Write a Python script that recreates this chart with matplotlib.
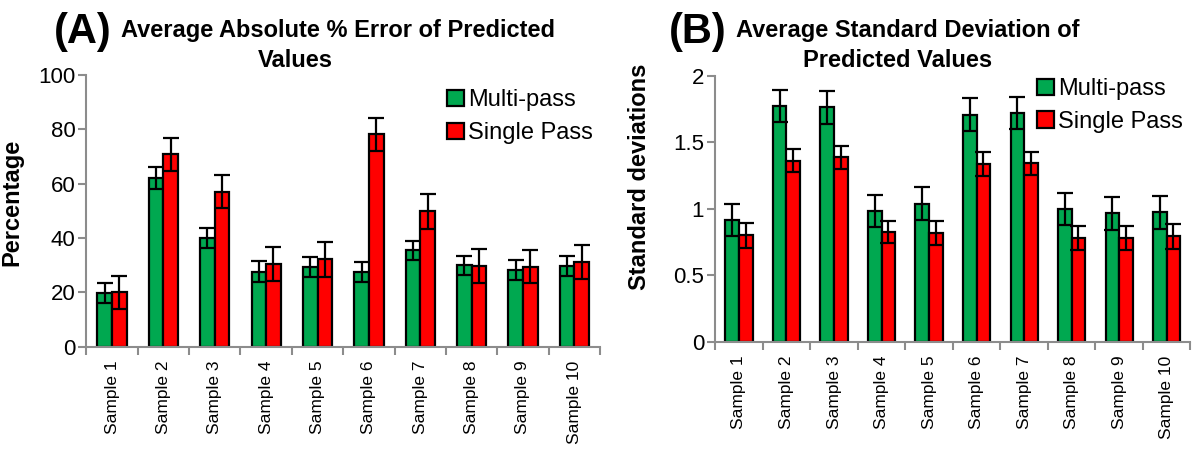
import numpy as np
import matplotlib.pyplot as plt

plt.rcParams['font.family'] = ['Liberation Sans', 'DejaVu Sans']

samples = ['Sample 1', 'Sample 2', 'Sample 3', 'Sample 4', 'Sample 5',
           'Sample 6', 'Sample 7', 'Sample 8', 'Sample 9', 'Sample 10']

# (A) average absolute % error
err_multi = [19.8, 62.2, 39.9, 27.7, 29.5, 27.5, 35.5, 30.0, 28.2, 29.6]
err_multi_sd = [3.5, 4.0, 3.7, 3.9, 3.7, 3.6, 3.6, 3.5, 3.6, 3.7]
err_single = [20.0, 70.8, 57.1, 30.6, 32.2, 78.2, 49.8, 29.7, 29.5, 31.3]
err_single_sd = [6.1, 6.1, 6.2, 6.2, 6.4, 6.1, 6.3, 6.2, 6.1, 6.2]

# (B) average standard deviation
sd_multi = [0.917, 1.774, 1.764, 0.985, 1.04, 1.706, 1.72, 1.0, 0.965, 0.975]
sd_multi_sd = [0.12, 0.123, 0.125, 0.122, 0.125, 0.124, 0.12, 0.12, 0.125, 0.125]
sd_single = [0.80, 1.362, 1.387, 0.825, 0.818, 1.337, 1.342, 0.778, 0.778, 0.793]
sd_single_sd = [0.095, 0.088, 0.088, 0.085, 0.087, 0.088, 0.088, 0.09, 0.09, 0.092]

green = '#00a850'
red = '#ff0000'
gray = '#8c8c8c'

fig = plt.figure(figsize=(12, 4.54), dpi=100)
axA = fig.add_axes([0.072, 0.236, 0.428, 0.599])
axB = fig.add_axes([0.596, 0.247, 0.396, 0.586])

x = np.arange(len(samples))
w = 0.285


def draw(ax, m, msd, s, ssd, ymax, yticks, ylabel, leg_y):
    ekw = dict(ecolor='black', elinewidth=1.6, capsize=5.5, capthick=1.6)
    ax.bar(x - w / 2, m, w, yerr=msd, color=green, edgecolor='black',
           linewidth=1.6, error_kw=ekw, label='Multi-pass')
    ax.bar(x + w / 2, s, w, yerr=ssd, color=red, edgecolor='black',
           linewidth=1.6, error_kw=ekw, label='Single Pass')
    ax.set_xlim(-0.5, len(samples) - 0.5)
    ax.set_ylim(0, ymax)
    ax.set_yticks(yticks)
    ax.set_yticklabels([('%g' % t) for t in yticks], fontsize=16)
    ax.set_xticks(x)
    ax.set_xticklabels(samples, rotation=90, fontsize=12.5)
    ax.set_xticks(np.arange(-0.5, len(samples), 1), minor=True)
    ax.tick_params(axis='x', which='major', length=0, pad=10)
    ax.tick_params(axis='x', which='minor', length=6, width=1.5, color=gray, direction='out')
    ax.tick_params(axis='y', length=6, width=1.5, color=gray, pad=2)
    for sp in ['top', 'right']:
        ax.spines[sp].set_visible(False)
    for sp in ['left', 'bottom']:
        ax.spines[sp].set_color(gray)
        ax.spines[sp].set_linewidth(1.5)
    ax.set_ylabel(ylabel, fontsize=17, fontweight='bold')
    ax.legend(loc='upper right', bbox_to_anchor=(1.01, leg_y), frameon=False,
              fontsize=17, handlelength=0.7, handleheight=0.7,
              handletextpad=0.2, labelspacing=0.45, borderpad=0)


draw(axA, err_multi, err_multi_sd, err_single, err_single_sd,
     100, [0, 20, 40, 60, 80, 100], 'Percentage', 0.99)
draw(axB, sd_multi, sd_multi_sd, sd_single, sd_single_sd,
     2, [0, 0.5, 1, 1.5, 2], 'Standard deviations', 1.035)
axA.yaxis.set_label_coords(-0.123, 0.53)
axB.yaxis.set_label_coords(-0.135, 0.62)

fig.text(0.045, 0.93, '(A)', fontsize=30, fontweight='bold', va='center')
fig.text(0.101, 0.932, 'Average Absolute % Error of Predicted', fontsize=17,
         fontweight='bold', va='center')
fig.text(0.246, 0.866, 'Values', fontsize=17, fontweight='bold', va='center', ha='center')
fig.text(0.557, 0.93, '(B)', fontsize=30, fontweight='bold', va='center')
fig.text(0.613, 0.932, 'Average Standard Deviation of', fontsize=17,
         fontweight='bold', va='center')
fig.text(0.748, 0.866, 'Predicted Values', fontsize=17, fontweight='bold',
         va='center', ha='center')

fig.savefig('out.png', dpi=100)
